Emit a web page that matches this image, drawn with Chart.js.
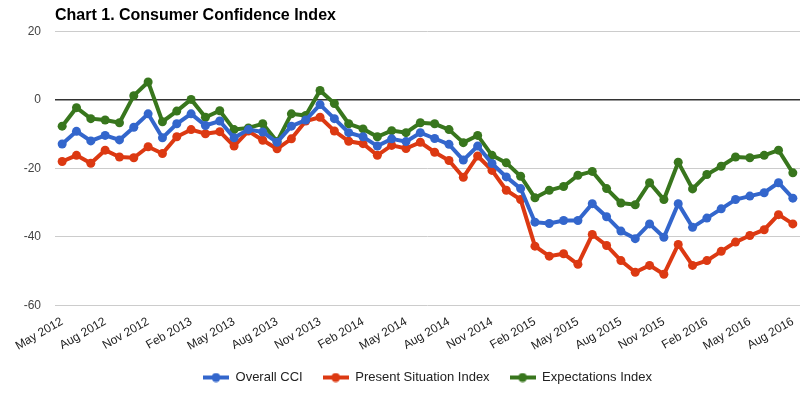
<!DOCTYPE html>
<html>
<head>
<meta charset="utf-8">
<script src="https://cdn.jsdelivr.net/npm/chart.js@4/dist/chart.umd.min.js"></script>
<style>
  html, body { margin: 0; padding: 0; background: #fff; overflow: hidden; }
  #wrap { position: relative; width: 800px; height: 399px; }
</style>
</head>
<body>
<div id="wrap"><canvas id="cci"></canvas></div>
<script>
const months = [
    'May 2012', 'Jun 2012', 'Jul 2012', 'Aug 2012', 'Sep 2012', 'Oct 2012', 'Nov 2012', 'Dec 2012',
    'Jan 2013', 'Feb 2013', 'Mar 2013', 'Apr 2013', 'May 2013', 'Jun 2013', 'Jul 2013', 'Aug 2013',
    'Sep 2013', 'Oct 2013', 'Nov 2013', 'Dec 2013', 'Jan 2014', 'Feb 2014', 'Mar 2014', 'Apr 2014',
    'May 2014', 'Jun 2014', 'Jul 2014', 'Aug 2014', 'Sep 2014', 'Oct 2014', 'Nov 2014', 'Dec 2014',
    'Jan 2015', 'Feb 2015', 'Mar 2015', 'Apr 2015', 'May 2015', 'Jun 2015', 'Jul 2015', 'Aug 2015',
    'Sep 2015', 'Oct 2015', 'Nov 2015', 'Dec 2015', 'Jan 2016', 'Feb 2016', 'Mar 2016', 'Apr 2016',
    'May 2016', 'Jun 2016', 'Jul 2016', 'Aug 2016'
]

const overallCCI = [
    -12.9, -9.2, -12.0, -10.4, -11.7, -8.0, -4.1, -11.1, -7.0, -4.1, -7.5, -6.2, -11.1,
    -8.7, -9.4, -12.4, -7.7, -5.9, -1.4, -5.5, -9.6, -10.8, -13.5, -11.4, -12.2, -9.6,
    -11.3, -13.0, -17.6, -13.5, -18.6, -22.5, -25.9, -35.7, -36.1, -35.2, -35.2, -30.3, -34.1,
    -38.3, -40.5, -36.2, -40.1, -30.3, -37.2, -34.5, -31.8, -29.1, -28.1, -27.1, -24.2, -28.7
]

const presentSituation = [
    -18.0, -16.2, -18.5, -14.7, -16.7, -16.9, -13.7, -15.7, -10.8, -8.7, -9.9, -9.3, -13.5,
    -9.1, -11.8, -14.3, -11.4, -6.2, -5.1, -9.1, -12.1, -12.8, -16.2, -13.3, -14.2, -12.4,
    -15.3, -17.7, -22.6, -16.4, -20.6, -26.4, -29.1, -42.7, -45.6, -44.9, -48.0, -39.3, -42.5,
    -46.9, -50.3, -48.3, -50.9, -42.2, -48.3, -46.9, -44.2, -41.5, -39.6, -37.9, -33.5, -36.2
]

const expectations = [
    -7.7, -2.3, -5.5, -5.9, -6.7, 1.2, 5.2, -6.4, -3.3, 0.1, -5.1, -3.2, -8.7,
    -8.2, -7.0, -12.2, -4.1, -4.6, 2.7, -1.1, -7.0, -8.5, -10.8, -9.0, -9.6, -6.7,
    -7.0, -8.7, -12.5, -10.4, -16.2, -18.4, -22.3, -28.6, -26.4, -25.3, -22.0, -20.9, -25.9,
    -30.1, -30.6, -24.2, -29.1, -18.2, -26.0, -21.8, -19.4, -16.7, -16.9, -16.2, -14.7, -21.3
]

const seriesNames = ['Overall CCI', 'Present Situation Index', 'Expectations Index']
const seriesColors = ['#3366cc', '#dc3912', '#38761d']

const fontFamily = 'Arial, "Liberation Sans", sans-serif'

// legend marker: thick line with a dot in the middle
function legendIcon(color) {
    const c = document.createElement('canvas')
    c.width = 26
    c.height = 10
    const g = c.getContext('2d')
    g.strokeStyle = color
    g.lineWidth = 4
    g.beginPath()
    g.moveTo(0, 5)
    g.lineTo(26, 5)
    g.stroke()
    g.fillStyle = color
    g.beginPath()
    g.arc(13, 5, 4.5, 0, Math.PI * 2)
    g.fill()
    return c
}

function makeDataset(label, data, color) {
    return {
        label,
        data,
        borderColor: color,
        backgroundColor: color,
        borderWidth: 4,
        pointRadius: 4.5,
        pointHoverRadius: 5,
        pointBorderWidth: 0,
        pointBackgroundColor: color,
        tension: 0,
        fill: false
    }
}

const ctx = document.getElementById('cci').getContext('2d')

new Chart(ctx, {
    type: 'line',
    data: {
        labels: months,
        datasets: [
            makeDataset(seriesNames[0], overallCCI, seriesColors[0]),
            makeDataset(seriesNames[1], presentSituation, seriesColors[1]),
            makeDataset(seriesNames[2], expectations, seriesColors[2])
        ]
    },
    options: {
        responsive: true,
        maintainAspectRatio: false,
        animation: false,
        layout: { autoPadding: false, padding: { left: 0, right: 0, top: 0, bottom: 5 } },
        plugins: {
            title: {
                display: true,
                text: 'Chart 1. Consumer Confidence Index',
                align: 'start',
                fullSize: false,
                color: '#000',
                font: { family: fontFamily, size: 16, weight: 'bold' },
                padding: { top: 6, bottom: 6 }
            },
            legend: {
                position: 'bottom',
                fullSize: false,
                labels: {
                    color: '#222',
                    font: { family: fontFamily, size: 13 },
                    usePointStyle: true,
                    pointStyleWidth: 26,
                    padding: 20,
                    generateLabels(chart) {
                        const items = Chart.defaults.plugins.legend.labels.generateLabels(chart)
                        items.forEach((item, i) => {
                            item.pointStyle = legendIcon(seriesColors[i])
                        })
                        return items
                    }
                }
            },
            tooltip: { enabled: false }
        },
        scales: {
            x: {
                offset: true,
                grid: {
                    display: true,
                    drawOnChartArea: false,
                    drawTicks: true,
                    tickLength: 9,
                    tickColor: 'rgba(0,0,0,0)'
                },
                border: { display: false },
                ticks: {
                    autoSkip: false,
                    minRotation: 30,
                    maxRotation: 30,
                    padding: 0,
                    color: '#222',
                    font: { family: fontFamily, size: 12 },
                    callback(value, index) {
                        return index % 3 === 0 ? months[index] : ''
                    }
                },
                afterFit(scale) {
                    scale.height = 45.5
                    scale.paddingRight = 0
                }
            },
            y: {
                min: -60,
                max: 20,
                border: { display: false },
                grid: {
                    drawTicks: false,
                    color: c => c.tick && c.tick.value === 0 ? '#333' : '#ccc',
                    lineWidth: c => c.tick && c.tick.value === 0 ? 1.5 : 1
                },
                ticks: {
                    stepSize: 20,
                    padding: 14,
                    color: '#444',
                    font: { family: fontFamily, size: 12 }
                },
                afterFit(scale) { scale.width = 55 }
            }
        }
    }
})
</script>
</body>
</html>
